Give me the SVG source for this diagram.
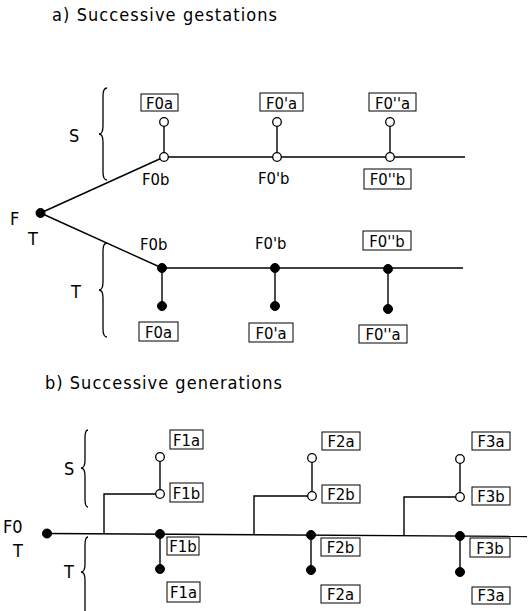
<svg xmlns="http://www.w3.org/2000/svg" width="529" height="611" viewBox="0 0 529 611">
<style>
  text { font-family: "DejaVu Sans Condensed", "DejaVu Sans", "Liberation Sans", sans-serif; fill: #000; }
  .t { font-size: 18px; }
  .l { font-size: 16.5px; }
  .c { text-anchor: middle; }
  .ln { stroke: #000; stroke-width: 1.4; fill: none; }
  .br { stroke: #000; stroke-width: 1.3; fill: none; }
  .bx { stroke: #000; stroke-width: 1; fill: #fff; }
  .fd { fill: #000; stroke: #000; stroke-width: 1; }
  .od { fill: #fff; stroke: #000; stroke-width: 1.3; }
</style>
<rect width="529" height="611" fill="#fff"/>

<!-- ===== a) Successive gestations ===== -->
<text class="t" x="52" y="21" textLength="225" lengthAdjust="spacing">a) Successive gestations</text>

<g id="connectors-a">
  <line class="ln" x1="40.5" y1="213" x2="164" y2="157"/>
  <line class="ln" x1="40.5" y1="213" x2="162" y2="268"/>
  <line class="ln" x1="164" y1="157" x2="465" y2="157"/>
  <line class="ln" x1="162" y1="268" x2="463" y2="268"/>
  <line class="ln" x1="164" y1="122" x2="164" y2="157"/>
  <line class="ln" x1="277" y1="122" x2="277" y2="157"/>
  <line class="ln" x1="390" y1="122" x2="390" y2="157"/>
  <line class="ln" x1="162" y1="268" x2="162" y2="306"/>
  <line class="ln" x1="275" y1="268" x2="275" y2="306"/>
  <line class="ln" x1="388" y1="268" x2="388" y2="309"/>
  <path class="br" d="M107,88 Q103,88 103,96 L103,126 Q103,134 99,134 Q103,134 103,142 L103,172 Q103,180 107,180"/>
  <path class="br" d="M107,243 Q103,243 103,251 L103,282 Q103,290 99,290 Q103,290 103,298 L103,329 Q103,337 107,337"/>
</g>

<g id="root-a">
  <circle class="fd" cx="40.5" cy="213" r="4.5"/>
  <text class="t" x="10" y="225">F</text>
  <text class="t" x="28" y="245">T</text>
</g>
<g id="label-S-a"><text class="t" x="69" y="142">S</text></g>
<g id="label-T-a"><text class="t" x="71" y="298">T</text></g>

<g id="s1">
  <circle class="od" cx="164" cy="122" r="4.3"/>
  <circle class="od" cx="164" cy="157" r="4.3"/>
  <rect class="bx" x="141" y="94" width="37" height="17"/>
  <text class="l c" x="159.5" y="108.5">F0a</text>
  <text class="l" x="142" y="185">F0b</text>
</g>
<g id="s2">
  <circle class="od" cx="277" cy="122" r="4.3"/>
  <circle class="od" cx="277" cy="157" r="4.3"/>
  <rect class="bx" x="260" y="93" width="43" height="18"/>
  <text class="l c" x="281.5" y="108.5">F0'a</text>
  <text class="l" x="258" y="184">F0'b</text>
</g>
<g id="s3">
  <circle class="od" cx="390" cy="122" r="4.3"/>
  <circle class="od" cx="390" cy="157" r="4.3"/>
  <rect class="bx" x="369" y="93" width="47" height="18"/>
  <text class="l c" x="392.5" y="108.5">F0''a</text>
  <rect class="bx" x="364" y="169" width="47" height="20"/>
  <text class="l c" x="387.5" y="185">F0''b</text>
</g>
<g id="t1">
  <circle class="fd" cx="162" cy="268" r="4.5"/>
  <circle class="fd" cx="162" cy="306" r="4.5"/>
  <text class="l" x="140" y="250">F0b</text>
  <rect class="bx" x="139" y="322" width="39" height="19"/>
  <text class="l c" x="158.5" y="338">F0a</text>
</g>
<g id="t2">
  <circle class="fd" cx="275" cy="268" r="4.5"/>
  <circle class="fd" cx="275" cy="306" r="4.5"/>
  <text class="l" x="255" y="249">F0'b</text>
  <rect class="bx" x="249" y="323" width="44" height="19"/>
  <text class="l c" x="271" y="339">F0'a</text>
</g>
<g id="t3">
  <circle class="fd" cx="388" cy="269" r="4.5"/>
  <circle class="fd" cx="388" cy="309" r="4.5"/>
  <rect class="bx" x="363" y="231" width="48" height="19"/>
  <text class="l c" x="387" y="247">F0''b</text>
  <rect class="bx" x="359" y="325" width="48" height="18"/>
  <text class="l c" x="383" y="340">F0''a</text>
</g>

<!-- ===== b) Successive generations ===== -->
<text class="t" x="45" y="389" textLength="237" lengthAdjust="spacing">b) Successive generations</text>

<g id="connectors-b">
  <line class="ln" x1="47" y1="533.5" x2="527" y2="536.5"/>
  <polyline class="ln" points="104,534 104,494 160,494"/>
  <polyline class="ln" points="254,535 254,496 312,496"/>
  <polyline class="ln" points="404,536 404,497 460,497"/>
  <line class="ln" x1="160" y1="457" x2="160" y2="494"/>
  <line class="ln" x1="312" y1="458" x2="312" y2="496"/>
  <line class="ln" x1="460" y1="459" x2="460" y2="497"/>
  <line class="ln" x1="160" y1="534" x2="160" y2="569"/>
  <line class="ln" x1="311" y1="535" x2="311" y2="570"/>
  <line class="ln" x1="460" y1="536" x2="460" y2="572"/>
  <path class="br" d="M88,430 Q85,430 85,438 L85,460 Q85,468 81,468 Q85,468 85,476 L85,499 Q85,507 88,507"/>
  <path class="br" d="M88,537 Q85,537 85,545 L85,564 Q85,572 81,572 Q85,572 85,580 L85,611"/>
</g>

<g id="root-b">
  <circle class="fd" cx="47" cy="533.5" r="4.5"/>
  <text class="t" x="3" y="533">F0</text>
  <text class="t" x="13" y="557">T</text>
</g>
<g id="label-S-b"><text class="t" x="64" y="475">S</text></g>
<g id="label-T-b"><text class="t" x="64" y="578">T</text></g>

<g id="g1">
  <circle class="od" cx="160" cy="457" r="4.3"/>
  <circle class="od" cx="160" cy="494" r="4.3"/>
  <rect class="bx" x="170" y="430" width="33" height="19"/>
  <text class="l c" x="186.5" y="446">F1a</text>
  <rect class="bx" x="170" y="483" width="33" height="19"/>
  <text class="l c" x="186.5" y="499">F1b</text>
  <circle class="fd" cx="160" cy="534" r="4.5"/>
  <circle class="fd" cx="160" cy="569" r="4.5"/>
  <rect class="bx" x="167" y="537" width="32" height="18"/>
  <text class="l c" x="183" y="552">F1b</text>
  <rect class="bx" x="167" y="582" width="33" height="20"/>
  <text class="l c" x="183.5" y="598">F1a</text>
</g>
<g id="g2">
  <circle class="od" cx="312" cy="458" r="4.3"/>
  <circle class="od" cx="312" cy="496" r="4.3"/>
  <rect class="bx" x="322" y="432" width="38" height="18"/>
  <text class="l c" x="341" y="447">F2a</text>
  <rect class="bx" x="322" y="485" width="38" height="18"/>
  <text class="l c" x="341" y="500">F2b</text>
  <circle class="fd" cx="311" cy="535" r="4.5"/>
  <circle class="fd" cx="311" cy="570" r="4.5"/>
  <rect class="bx" x="321" y="538" width="39" height="18"/>
  <text class="l c" x="340.5" y="553">F2b</text>
  <rect class="bx" x="321" y="585" width="39" height="18"/>
  <text class="l c" x="340.5" y="600">F2a</text>
</g>
<g id="g3">
  <circle class="od" cx="460" cy="459" r="4.3"/>
  <circle class="od" cx="460" cy="497" r="4.3"/>
  <rect class="bx" x="472" y="432" width="38" height="18"/>
  <text class="l c" x="491" y="447">F3a</text>
  <rect class="bx" x="472" y="487" width="38" height="18"/>
  <text class="l c" x="491" y="502">F3b</text>
  <circle class="fd" cx="460" cy="536" r="4.5"/>
  <circle class="fd" cx="460" cy="572" r="4.5"/>
  <rect class="bx" x="470" y="538" width="40" height="19"/>
  <text class="l c" x="490" y="554">F3b</text>
  <rect class="bx" x="472" y="587" width="38" height="17"/>
  <text class="l c" x="491" y="601">F3a</text>
</g>
</svg>
